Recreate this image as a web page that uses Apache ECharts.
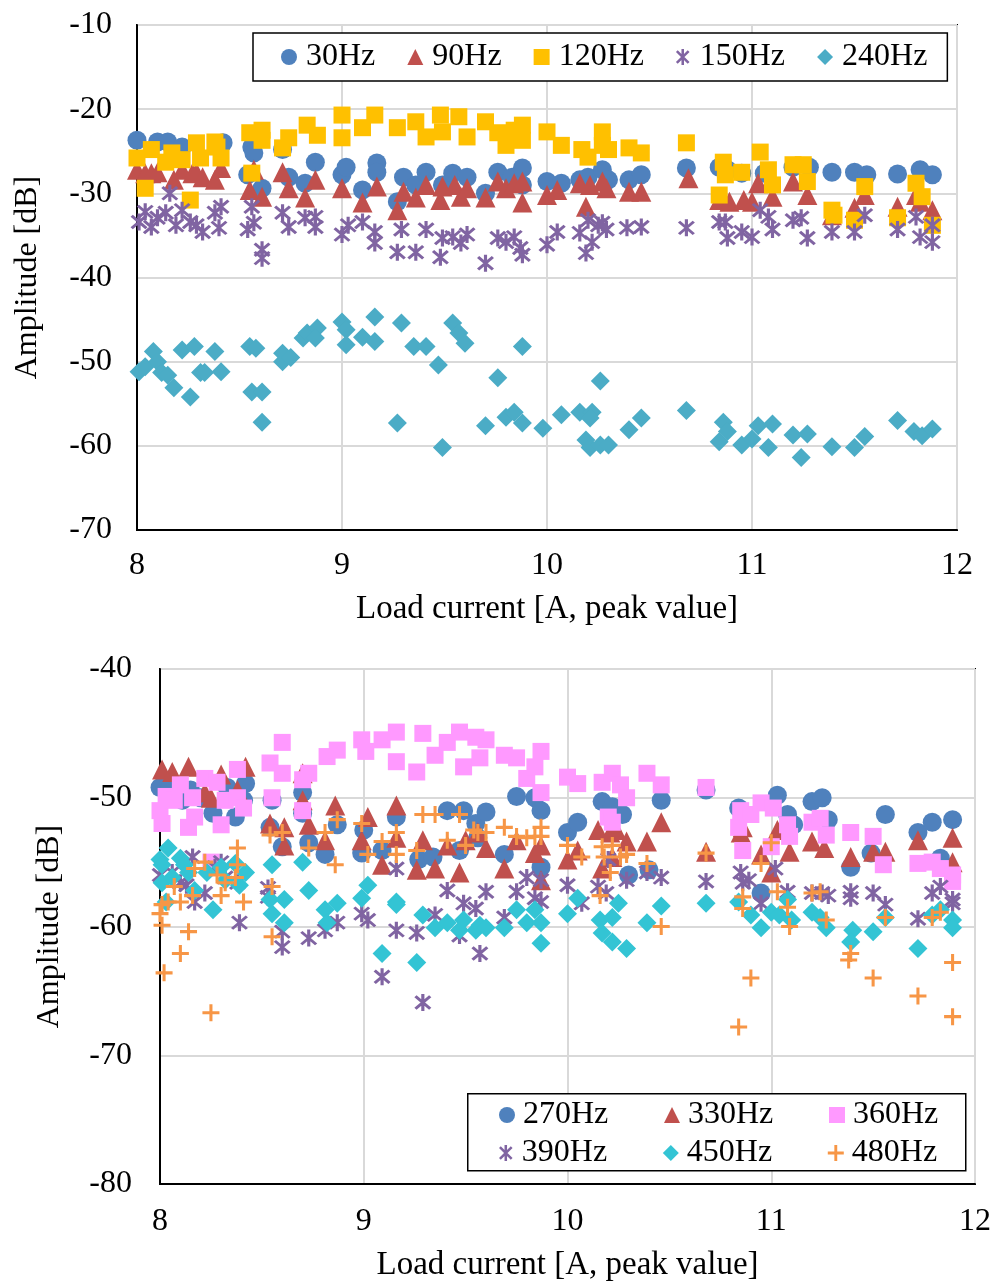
<!DOCTYPE html>
<html>
<head>
<meta charset="utf-8">
<script src="https://cdn.jsdelivr.net/npm/echarts@6/dist/echarts.min.js"></script>
<style>
  html, body { margin: 0; padding: 0; background: #fff; }
  #chart { width: 995px; height: 1284px; }
</style>
</head>
<body>
<div id="chart"></div>
<script>
// ---- upper plot: 30 / 90 / 120 / 150 / 240 Hz ----
const hz30 = [[8.00,-23.7],[8.10,-23.9],[8.15,-23.9],[8.22,-24.5],[8.42,-24.0],[8.56,-24.5],[8.57,-25.2],[8.54,-27.8],[8.61,-29.4],[8.71,-24.8],[8.74,-28.1],[8.82,-28.8],[8.87,-26.3],[9.00,-27.8],
  [9.02,-26.9],[9.17,-26.4],[9.17,-27.5],[9.10,-29.6],[9.30,-28.1],[9.27,-31.0],[9.36,-29.0],[9.41,-27.5],[9.49,-29.0],[9.54,-27.6],[9.61,-28.1],[9.70,-30.0],[9.76,-27.5],[9.83,-28.1],[9.88,-27.0],[9.88,-29.0],[10.00,-28.6],
  [10.07,-28.8],[10.16,-28.4],[10.20,-28.1],[10.27,-27.2],[10.30,-28.4],[10.40,-28.4],[10.46,-27.8],[10.68,-27.0],[10.84,-26.9],[10.88,-27.2],[10.95,-27.6],
  [11.06,-27.6],[11.20,-26.9],[11.28,-26.9],[11.39,-27.5],[11.50,-27.5],[11.56,-27.8],[11.71,-27.7],[11.82,-27.2],[11.88,-27.8]];
const hz90 = [[8.00,-27.2],[8.04,-27.6],[8.07,-27.6],[8.10,-27.5],[8.18,-28.4],[8.22,-27.2],[8.27,-27.6],[8.29,-27.5],[8.32,-28.1],[8.38,-28.4],[8.41,-27.0],[8.57,-27.2],[8.55,-29.6],[8.61,-30.4],[8.71,-27.5],[8.74,-29.4],[8.82,-30.5],[8.87,-28.4],[9.00,-29.4],
  [9.10,-31.1],[9.17,-29.2],[9.27,-32.0],[9.30,-29.8],[9.36,-30.5],[9.41,-29.0],[9.48,-30.8],[9.49,-29.2],[9.55,-29.0],[9.58,-30.4],[9.61,-29.4],[9.70,-30.5],[9.76,-28.6],[9.80,-29.4],[9.84,-28.8],[9.88,-28.6],[9.88,-31.1],[10.00,-30.2],[10.05,-29.6],
  [10.16,-28.8],[10.19,-31.6],[10.21,-29.0],[10.27,-28.6],[10.29,-29.4],[10.40,-29.8],[10.46,-29.8],[10.69,-28.2],[10.84,-30.8],[10.89,-31.0],[10.96,-30.8],[11.00,-31.0],[11.03,-28.8],
  [11.10,-30.4],[11.20,-28.6],[11.27,-30.2],[11.39,-32.6],[11.50,-31.7],[11.55,-30.2],[11.71,-31.6],[11.80,-30.2],[11.82,-31.0],[11.88,-32.0]];
const hz120 = [[8.00,-25.8],[8.04,-29.4],[8.07,-24.8],[8.14,-26.3],[8.17,-25.2],[8.22,-26.0],[8.26,-30.8],[8.29,-24.0],[8.31,-25.8],[8.38,-23.9],[8.39,-24.5],[8.41,-25.8],[8.55,-22.8],[8.61,-22.5],[8.61,-23.7],[8.56,-27.6],[8.71,-24.6],[8.74,-23.4],[8.83,-21.9],[8.88,-23.1],[9.00,-20.7],[9.00,-23.4],
  [9.10,-22.2],[9.16,-20.7],[9.27,-22.2],[9.36,-21.5],[9.41,-23.3],[9.48,-20.7],[9.49,-22.7],[9.57,-20.9],[9.61,-23.3],[9.70,-21.5],[9.76,-22.8],[9.80,-24.3],[9.84,-22.5],[9.88,-21.9],[9.88,-23.7],[10.00,-22.7],
  [10.07,-24.3],[10.17,-24.8],[10.20,-25.7],[10.27,-22.7],[10.27,-24.3],[10.30,-24.8],[10.40,-24.6],[10.46,-25.2],[10.68,-24.0],[10.86,-26.3],[10.87,-27.8],[10.84,-30.2],[10.95,-27.5],[11.04,-25.1],
  [11.08,-27.2],[11.10,-29.0],[11.20,-26.6],[11.25,-26.6],[11.27,-28.6],[11.39,-32.0],[11.40,-32.6],[11.50,-33.2],[11.55,-29.2],[11.71,-32.9],[11.80,-28.8],[11.83,-30.4],[11.88,-33.8]];
const hz150 = [[8.01,-33.4],[8.04,-32.2],[8.07,-34.0],[8.10,-32.9],[8.14,-32.3],[8.16,-30.0],[8.19,-33.8],[8.22,-32.0],[8.26,-33.4],[8.29,-33.8],[8.32,-34.6],[8.38,-32.3],[8.41,-31.6],[8.40,-34.1],[8.56,-31.6],[8.57,-33.5],[8.54,-34.3],[8.61,-36.7],[8.61,-37.7],[8.71,-32.3],[8.74,-34.0],[8.82,-32.9],[8.87,-32.8],[8.87,-34.0],[9.00,-34.9],
  [9.03,-33.8],[9.10,-33.4],[9.16,-34.6],[9.16,-35.9],[9.27,-37.0],[9.29,-34.3],[9.36,-37.0],[9.41,-34.3],[9.48,-37.6],[9.49,-35.3],[9.54,-35.2],[9.58,-35.9],[9.61,-34.9],[9.70,-38.3],[9.76,-35.3],[9.80,-35.8],[9.84,-35.2],[9.87,-36.5],[9.88,-37.3],[10.00,-36.1],[10.05,-34.6],
  [10.16,-34.7],[10.19,-37.1],[10.20,-33.2],[10.22,-35.8],[10.25,-33.8],[10.27,-33.5],[10.29,-34.3],[10.39,-34.1],[10.46,-34.0],[10.68,-34.1],[10.84,-33.4],[10.87,-33.4],[10.88,-35.3],[10.95,-34.6],[11.00,-35.2],[11.04,-32.0],
  [11.08,-32.8],[11.10,-34.3],[11.20,-33.2],[11.24,-32.9],[11.27,-35.3],[11.39,-34.6],[11.50,-34.6],[11.55,-32.6],[11.71,-34.3],[11.80,-32.8],[11.82,-35.2],[11.88,-33.8],[11.88,-35.8]];
const hz240 = [[8.01,-51.2],[8.04,-50.6],[8.08,-48.8],[8.10,-50.0],[8.12,-51.3],[8.15,-51.6],[8.18,-53.1],[8.22,-48.6],[8.26,-54.2],[8.28,-48.2],[8.31,-51.3],[8.33,-51.3],[8.38,-48.8],[8.41,-51.2],[8.55,-48.2],[8.58,-48.4],[8.56,-53.6],[8.61,-53.6],[8.61,-57.2],[8.71,-50.0],[8.71,-49.0],[8.75,-49.5],
  [8.81,-47.2],[8.83,-46.6],[8.88,-46.0],[8.87,-47.2],[9.00,-45.3],[9.02,-46.2],[9.02,-48.0],[9.10,-47.1],[9.16,-44.7],[9.16,-47.6],[9.29,-45.4],[9.35,-48.2],[9.41,-48.2],[9.47,-50.4],[9.54,-45.4],[9.57,-46.6],[9.60,-47.8],[9.88,-48.2],[9.76,-51.9],
  [9.27,-57.3],[9.49,-60.2],[9.70,-57.6],[9.80,-56.6],[9.84,-56.0],[9.88,-57.3],[9.98,-57.9],
  [10.07,-56.3],[10.16,-56.0],[10.22,-56.0],[10.21,-56.7],[10.26,-52.3],[10.19,-59.3],[10.21,-60.2],[10.26,-59.9],[10.30,-59.9],[10.40,-58.1],[10.46,-56.7],[10.68,-55.8],[10.86,-57.2],[10.84,-59.5],[10.88,-58.3],[10.95,-59.9],[11.00,-59.2],[11.03,-57.6],
  [11.10,-57.4],[11.08,-60.2],[11.20,-58.7],[11.27,-58.6],[11.24,-61.4],[11.39,-60.1],[11.50,-60.2],[11.55,-58.9],[11.71,-57.0],[11.79,-58.3],[11.83,-58.8],[11.88,-58.0]];

// ---- lower plot: 270 / 330 / 360 / 390 / 450 / 480 Hz ----
const hz270 = [[8.00,-49.2],[8.05,-49.2],[8.11,-50.2],[8.15,-49.4],[8.20,-50.0],[8.26,-51.2],[8.33,-49.2],[8.37,-51.5],[8.42,-48.9],[8.41,-50.2],[8.55,-50.2],[8.54,-52.3],[8.60,-53.8],[8.70,-49.6],[8.70,-51.2],[8.73,-53.5],[8.81,-54.4],[8.87,-52.1],[8.99,-54.3],
  [9.00,-52.5],[9.09,-54.1],[9.16,-51.5],[9.27,-54.8],[9.34,-54.6],[9.41,-51.0],[9.47,-54.1],[9.49,-51.0],[9.55,-52.0],[9.56,-53.1],[9.60,-51.1],[9.69,-54.4],[9.75,-49.9],[9.84,-50.0],[9.87,-51.0],[9.87,-55.4],[10.00,-52.7],[10.05,-51.9],
  [10.17,-50.3],[10.22,-50.7],[10.27,-51.3],[10.30,-56.0],[10.40,-55.6],[10.46,-50.2],[10.68,-49.4],[10.84,-50.8],[10.95,-57.4],[11.03,-49.8],
  [11.08,-51.3],[11.11,-52.1],[11.20,-50.3],[11.25,-50.0],[11.28,-51.7],[11.39,-55.4],[11.49,-54.3],[11.56,-51.3],[11.72,-52.7],[11.79,-51.9],[11.83,-54.7],[11.89,-51.7]];
const hz330 = [[8.01,-47.8],[8.06,-48.0],[8.14,-47.6],[8.22,-49.6],[8.25,-50.0],[8.30,-48.2],[8.38,-49.4],[8.42,-47.6],[8.54,-52.0],[8.61,-52.3],[8.61,-53.7],[8.70,-48.1],[8.70,-50.2],[8.73,-52.1],[8.81,-53.3],[8.86,-50.6],[8.99,-53.3],
  [9.02,-51.5],[9.09,-55.2],[9.16,-50.6],[9.16,-53.1],[9.26,-55.6],[9.29,-53.3],[9.35,-55.5],[9.41,-53.7],[9.47,-55.8],[9.50,-53.3],[9.56,-52.7],[9.60,-53.9],[9.69,-55.5],[9.75,-53.3],[9.84,-54.3],[9.87,-53.7],[9.87,-56.4],[10.00,-54.8],[10.05,-54.1],
  [10.15,-52.5],[10.17,-55.5],[10.21,-52.7],[10.24,-52.5],[10.29,-53.4],[10.22,-54.6],[10.39,-53.4],[10.46,-51.9],[10.68,-54.2],[10.85,-52.7],[10.86,-52.3],[10.95,-54.4],[11.00,-55.8],[11.03,-52.5],
  [11.09,-54.2],[11.20,-53.4],[11.26,-53.9],[11.39,-54.6],[11.50,-54.2],[11.56,-54.2],[11.72,-53.3],[11.89,-55.0],[11.89,-53.1]];
const hz360 = [[8.00,-51.0],[8.01,-52.0],[8.03,-49.9],[8.07,-50.2],[8.10,-49.0],[8.14,-52.3],[8.16,-50.0],[8.17,-51.5],[8.22,-48.5],[8.28,-48.8],[8.30,-52.1],[8.32,-50.2],[8.38,-47.8],[8.38,-50.0],[8.41,-50.8],[8.25,-55.0],
  [8.54,-47.3],[8.55,-50.0],[8.60,-48.1],[8.60,-45.7],[8.70,-48.6],[8.70,-51.0],[8.73,-48.1],[8.82,-46.8],[8.87,-46.3],[8.99,-45.5],
  [9.01,-46.4],[9.09,-45.5],[9.16,-44.9],[9.16,-47.2],[9.26,-48.0],[9.29,-45.0],[9.35,-46.7],[9.41,-45.7],[9.47,-44.9],[9.49,-47.6],[9.55,-45.3],[9.57,-46.9],[9.60,-45.5],[9.69,-46.7],[9.75,-46.9],[9.80,-48.5],[9.84,-47.6],[9.87,-46.4],[9.87,-49.6],[10.00,-48.4],[10.05,-48.9],
  [10.17,-48.8],[10.22,-48.1],[10.26,-49.0],[10.29,-50.0],[10.20,-51.5],[10.22,-51.9],[10.39,-48.1],[10.46,-49.0],[10.68,-49.2],[10.85,-51.0],[10.90,-51.3],[10.95,-50.4],[10.84,-52.3],[10.86,-54.1],[11.01,-50.8],[11.00,-53.8],
  [11.08,-52.1],[11.09,-53.0],[11.20,-51.9],[11.24,-51.6],[11.27,-52.9],[11.39,-52.7],[11.50,-53.0],[11.55,-55.2],[11.72,-55.1],[11.79,-55.0],[11.83,-55.5],[11.89,-56.0],[11.89,-56.5]];
const hz390 = [[8.00,-56.0],[8.06,-55.8],[8.10,-56.6],[8.13,-56.8],[8.16,-54.6],[8.17,-58.1],[8.22,-57.4],[8.27,-55.4],[8.30,-55.0],[8.32,-56.2],[8.39,-59.7],[8.38,-56.6],[8.53,-57.0],[8.53,-57.7],[8.60,-60.4],[8.60,-61.6],[8.73,-60.9],[8.81,-60.3],[8.87,-59.7],[8.99,-59.0],
  [9.02,-59.5],[9.09,-63.9],[9.16,-55.5],[9.16,-60.3],[9.26,-60.5],[9.29,-65.9],[9.35,-59.1],[9.41,-57.2],[9.47,-60.7],[9.49,-58.2],[9.55,-58.6],[9.57,-62.1],[9.60,-57.3],[9.69,-59.3],[9.75,-57.3],[9.80,-56.2],[9.84,-57.8],[9.87,-56.4],[9.87,-58.1],[10.00,-56.8],
  [10.07,-58.2],[10.15,-56.9],[10.19,-57.4],[10.20,-54.8],[10.29,-56.4],[10.39,-55.8],[10.46,-56.2],[10.68,-56.5],[10.85,-55.8],[10.86,-56.6],[10.89,-56.4],[10.95,-58.2],[11.02,-55.5],
  [11.08,-57.3],[11.20,-57.4],[11.25,-57.4],[11.28,-57.6],[11.39,-57.3],[11.39,-57.8],[11.50,-57.4],[11.56,-58.3],[11.72,-59.4],[11.79,-57.4],[11.83,-56.9],[11.89,-57.9],[11.89,-58.2]];
const hz450 = [[8.00,-54.8],[8.01,-55.2],[8.04,-53.9],[8.01,-56.6],[8.06,-56.2],[8.10,-54.7],[8.12,-55.2],[8.14,-55.8],[8.03,-58.1],[8.17,-57.2],[8.23,-55.8],[8.26,-58.7],[8.30,-55.4],[8.32,-56.4],[8.37,-55.1],[8.39,-56.8],[8.42,-55.8],
  [8.55,-55.2],[8.54,-57.9],[8.55,-59.0],[8.61,-57.9],[8.61,-59.7],[8.70,-55.0],[8.73,-57.2],[8.81,-58.7],[8.82,-59.7],[8.87,-58.2],[8.99,-57.8],
  [9.02,-56.8],[9.16,-58.1],[9.16,-58.3],[9.09,-62.1],[9.26,-62.8],[9.29,-59.1],[9.35,-60.1],[9.41,-59.7],[9.47,-60.3],[9.49,-59.5],[9.55,-60.3],[9.57,-59.9],[9.60,-60.1],[9.69,-60.1],[9.75,-58.7],[9.80,-59.7],[9.84,-58.7],[9.87,-59.7],[9.87,-61.3],[10.00,-59.0],[10.05,-57.8],
  [10.16,-59.5],[10.17,-60.5],[10.22,-59.3],[10.22,-61.2],[10.25,-58.2],[10.29,-61.7],[10.39,-59.7],[10.46,-58.4],[10.68,-58.2],[10.84,-58.1],[10.90,-59.1],[10.95,-60.1],[11.00,-58.9],
  [11.04,-59.1],[11.08,-57.9],[11.10,-59.5],[11.20,-58.9],[11.24,-59.3],[11.27,-60.1],[11.40,-60.3],[11.39,-61.2],[11.50,-60.4],[11.56,-59.3],[11.72,-61.7],[11.79,-59.1],[11.83,-58.7],[11.89,-59.5],[11.89,-60.1]];
const hz480 = [[8.00,-59.0],[8.01,-58.3],[8.01,-59.9],[8.02,-63.6],[8.04,-58.1],[8.07,-56.9],[8.10,-58.1],[8.10,-62.1],[8.14,-60.4],[8.16,-57.6],[8.17,-55.5],[8.22,-55.0],[8.25,-66.7],[8.28,-56.0],[8.30,-57.6],[8.32,-56.6],[8.38,-53.9],[8.38,-55.2],[8.37,-56.2],[8.41,-58.1],
  [8.54,-52.9],[8.55,-56.9],[8.55,-60.8],[8.60,-52.7],[8.73,-53.9],[8.81,-52.7],[8.86,-55.2],[8.87,-51.7],[8.99,-52.0],
  [9.02,-54.4],[9.09,-53.4],[9.16,-52.7],[9.16,-54.4],[9.26,-54.1],[9.29,-51.3],[9.35,-51.3],[9.41,-53.3],[9.47,-51.3],[9.50,-53.7],[9.54,-52.5],[9.56,-52.7],[9.60,-52.7],[9.69,-52.3],[9.75,-53.0],[9.80,-53.1],[9.84,-53.0],[9.87,-52.3],[9.87,-53.0],[10.00,-53.7],
  [10.07,-54.6],[10.17,-53.8],[10.18,-54.6],[10.21,-55.8],[10.22,-53.7],[10.26,-54.6],[10.29,-54.4],[10.16,-57.6],[10.39,-55.1],[10.46,-60.0],[10.68,-54.3],[10.86,-57.7],[10.86,-58.6],[10.90,-64.0],[10.84,-67.8],[10.95,-55.1],[11.00,-53.5],
  [11.03,-57.3],[11.08,-58.5],[11.09,-60.0],[11.20,-57.4],[11.24,-57.3],[11.27,-59.5],[11.39,-62.1],[11.38,-62.6],[11.50,-64.0],[11.56,-59.3],[11.72,-65.4],[11.79,-59.3],[11.83,-58.9],[11.89,-62.8],[11.89,-67.0]];

const topNames = ['30Hz', '90Hz', '120Hz', '150Hz', '240Hz'];
const bottomRow1 = ['270Hz', '330Hz', '360Hz'];
const bottomRow2 = ['390Hz', '450Hz', '480Hz'];

const FONT = '"Liberation Serif", "Times New Roman", serif';
// asterisk marker (vertical bar + two diagonals), all sub-paths wound the same way
const STAR = 'path://M8.5 0.5 L11.5 0.5 L11.5 19.5 L8.5 19.5 Z M1.94 4.06 L4.06 1.94 L18.06 15.94 L15.94 18.06 Z M18.06 4.06 L4.06 18.06 L1.94 15.94 L15.94 1.94 Z';
const PLUS = 'path://M8.2 0 L11.8 0 L11.8 8.2 L20 8.2 L20 11.8 L11.8 11.8 L11.8 20 L8.2 20 L8.2 11.8 L0 11.8 L0 8.2 L8.2 8.2 Z';

const chart = echarts.init(document.getElementById('chart'));

function scatter(name, data, idx, symbol, size, color) {
    return {
        name: name,
        type: 'scatter',
        xAxisIndex: idx,
        yAxisIndex: idx,
        data: data,
        symbol: symbol,
        symbolSize: size,
        itemStyle: { color: color, opacity: 1 },
        emphasis: { disabled: true },
        animation: false
    };
}

function xAxisFor(idx, margin, gap) {
    return {
        type: 'value', gridIndex: idx, min: 8, max: 12, interval: 1,
        name: 'Load current [A, peak value]', nameLocation: 'middle', nameGap: gap,
        nameTextStyle: { fontFamily: FONT, fontSize: 33, color: '#000' },
        axisLine: { show: true, onZero: false, lineStyle: { color: '#000', width: 2 } },
        axisTick: { show: false },
        axisLabel: { fontFamily: FONT, fontSize: 32, color: '#000', margin: margin },
        splitLine: { show: true, lineStyle: { color: '#d9d9d9', width: 2 } }
    };
}

function yAxisFor(idx, min, max, margin, gap) {
    return {
        type: 'value', gridIndex: idx, min: min, max: max, interval: 10,
        name: 'Amplitude [dB]', nameLocation: 'middle', nameGap: gap, nameRotate: 90,
        nameTextStyle: { fontFamily: FONT, fontSize: 32, color: '#000' },
        axisLine: { show: true, lineStyle: { color: '#000', width: 2 } },
        axisTick: { show: false },
        axisLabel: { fontFamily: FONT, fontSize: 32, color: '#000', margin: margin },
        splitLine: { show: true, lineStyle: { color: '#d9d9d9', width: 2 } }
    };
}

const legendText = { fontFamily: FONT, fontSize: 32, color: '#000' };

const option = {
    backgroundColor: '#fff',
    animation: false,
    grid: [
        { left: 137, right: 38, top: 25, height: 505, show: true, borderColor: '#000', borderWidth: 2, backgroundColor: 'transparent' },
        { left: 160, right: 20, top: 669, height: 515, show: true, borderColor: '#000', borderWidth: 2, backgroundColor: 'transparent' }
    ],
    xAxis: [xAxisFor(0, 20, 63), xAxisFor(1, 22, 65)],
    yAxis: [yAxisFor(0, -70, -10, 25, 93), yAxisFor(1, -80, -40, 28, 94)],
    graphic: [{
        type: 'rect', left: 467, top: 1093, z: 3,
        shape: { width: 498, height: 77 },
        style: { fill: '#fff', stroke: '#000', lineWidth: 1.5 }
    }],
    legend: [
        {
            data: topNames, left: 253, top: 33, orient: 'horizontal',
            padding: [6, 20, 6, 28], itemGap: 32, itemWidth: 16, itemHeight: 16,
            backgroundColor: '#fff', borderColor: '#000', borderWidth: 1.5,
            textStyle: Object.assign({ lineHeight: 36, padding: [0, 0, 0, 4] }, legendText),
            selectedMode: false, z: 5
        },
        {
            data: bottomRow1, left: 499, top: 1099, orient: 'horizontal', padding: 0,
            itemGap: 10, itemWidth: 16, itemHeight: 16,
            textStyle: Object.assign({ lineHeight: 28, width: 131, padding: [0, 0, 0, 3] }, legendText),
            selectedMode: false, z: 5
        },
        {
            data: bottomRow2, left: 499, top: 1137, orient: 'horizontal', padding: 0,
            itemGap: 10, itemWidth: 16, itemHeight: 16,
            textStyle: Object.assign({ lineHeight: 28, width: 131, padding: [0, 0, 0, 3] }, legendText),
            selectedMode: false, z: 5
        }
    ],
    series: [
        scatter('30Hz', hz30, 0, 'circle', 19, '#4f81bd'),
        scatter('90Hz', hz90, 0, 'triangle', 20, '#c0504d'),
        scatter('120Hz', hz120, 0, 'rect', 17, '#ffc000'),
        scatter('150Hz', hz150, 0, STAR, 17, '#8064a2'),
        scatter('240Hz', hz240, 0, 'diamond', 19, '#4bacc6'),
        scatter('270Hz', hz270, 1, 'circle', 19, '#4f81bd'),
        scatter('330Hz', hz330, 1, 'triangle', 20, '#c0504d'),
        scatter('360Hz', hz360, 1, 'rect', 17, '#ff99ff'),
        scatter('390Hz', hz390, 1, STAR, 17, '#8064a2'),
        scatter('450Hz', hz450, 1, 'diamond', 19, '#33c4d4'),
        scatter('480Hz', hz480, 1, PLUS, 17, '#f79646')
    ]
};

chart.setOption(option);
</script>
</body>
</html>
